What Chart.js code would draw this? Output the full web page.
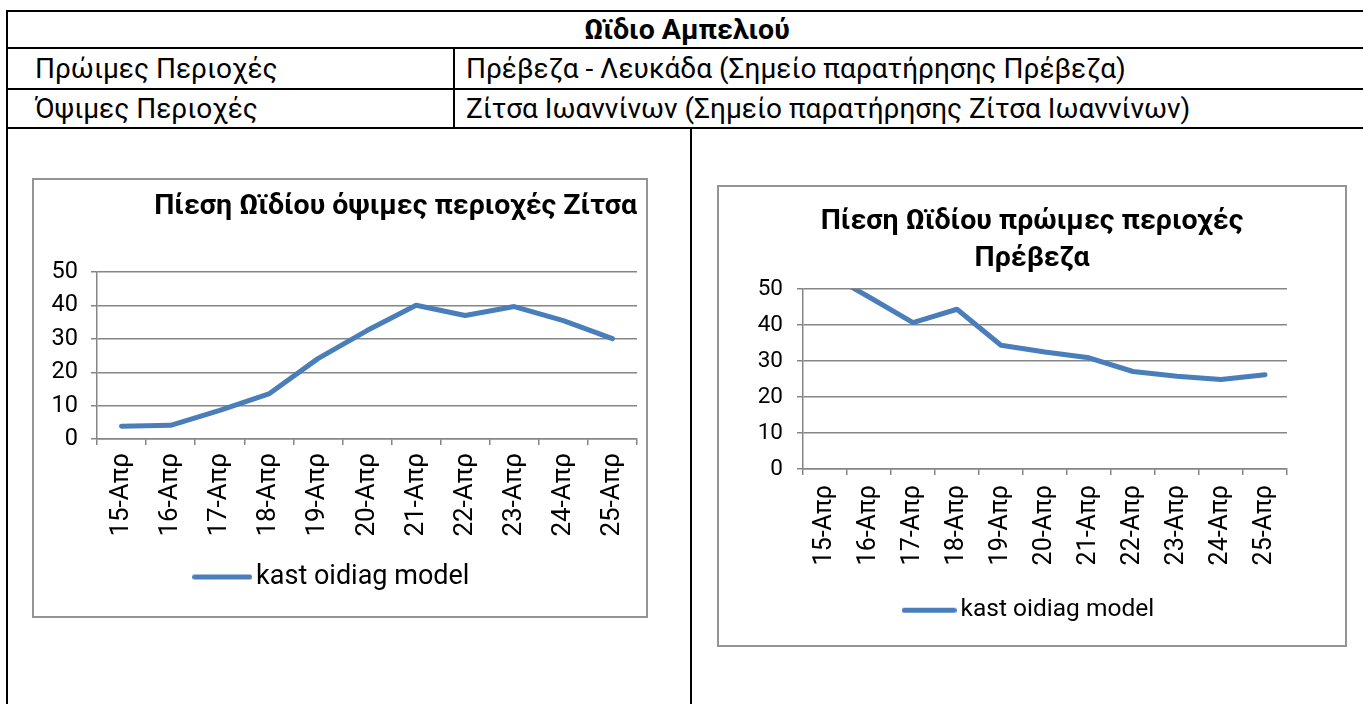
<!DOCTYPE html>
<html>
<head>
<meta charset="utf-8">
<script src="https://cdn.jsdelivr.net/npm/chart.js"></script>
<style>
  html, body { margin: 0; padding: 0; background: #fff; width: 1363px; height: 704px; overflow: hidden; font-family: Roboto, sans-serif; }
  .rule { position: absolute; background: #000; }
  .cell { position: absolute; display: flex; align-items: center; font-size: 28px; white-space: nowrap; color: #000; }
  .box { position: absolute; border: 2px solid #949494; box-sizing: border-box; }
  .box canvas { position: absolute; left: 0; top: 0; }
</style>
</head>
<body>
<!-- table frame -->
<div class="rule" style="left:6px;top:10px;width:1360px;height:2px"></div>
<div class="rule" style="left:6px;top:10px;width:2px;height:700px"></div>
<div class="rule" style="left:6px;top:47px;width:1360px;height:2px"></div>
<div class="rule" style="left:6px;top:88px;width:1360px;height:2px"></div>
<div class="rule" style="left:6px;top:127px;width:1360px;height:2px"></div>
<div class="rule" style="left:453px;top:48px;width:2px;height:80px"></div>
<div class="rule" style="left:690px;top:128px;width:2px;height:580px"></div>

<div class="cell" style="left:8px;top:12px;width:1358px;height:35px;justify-content:center;font-weight:bold;font-size:28.5px">Ωϊδιο Αμπελιού</div>
<div class="cell" style="left:35px;top:49px;height:39px">Πρώιμες Περιοχές</div>
<div class="cell" style="left:466px;top:49px;height:39px">Πρέβεζα - Λευκάδα (Σημείο παρατήρησης Πρέβεζα)</div>
<div class="cell" style="left:35px;top:90px;height:37px">Όψιμες Περιοχές</div>
<div class="cell" style="left:466px;top:90px;height:37px">Ζίτσα Ιωαννίνων (Σημείο παρατήρησης Ζίτσα Ιωαννίνων)</div>

<div class="box" style="left:32px;top:178px;width:616px;height:440px"><canvas id="late" width="612" height="436"></canvas></div>
<div class="box" style="left:717px;top:185px;width:630px;height:462px"><canvas id="early" width="626" height="458"></canvas></div>

<script>
const days = ["15-Απρ", "16-Απρ", "17-Απρ", "18-Απρ", "19-Απρ", "20-Απρ", "21-Απρ", "22-Απρ", "23-Απρ", "24-Απρ", "25-Απρ"];
const lateZitsa = [3.8, 4.1, 8.6, 13.5, 24.1, 32.5, 40.1, 37.0, 39.7, 35.5, 30.1];
const earlyPreveza = [54.8, 47.8, 40.7, 44.4, 34.4, 32.5, 30.9, 27.1, 25.8, 24.9, 26.2];
const yTicks = [0, 10, 20, 30, 40, 50];
const seriesName = "kast oidiag model";

const BLUE = "#4a7ebb";
const GRID = "#868686";
const FONT = "Roboto";

// short thick line used as the legend sample (like Excel's)
function legendLine(w, h) {
    const c = document.createElement("canvas");
    c.width = w;
    c.height = h + 2;
    const g = c.getContext("2d");
    g.strokeStyle = BLUE;
    g.lineWidth = h;
    g.lineCap = "round";
    g.beginPath();
    g.moveTo(h / 2, c.height / 2);
    g.lineTo(w - h / 2, c.height / 2);
    g.stroke();
    return c;
}

function makeChart(id, values, title, L) {
    const ctx = document.getElementById(id).getContext("2d");
    return new Chart(ctx, {
        type: "line",
        data: {
            labels: days,
            datasets: [{
                label: seriesName,
                data: values,
                borderColor: BLUE,
                backgroundColor: BLUE,
                borderWidth: 5,
                borderJoinStyle: "round",
                borderCapStyle: "round",
                pointRadius: 0,
                tension: 0,
                fill: false,
                clip: { left: 5, right: 5, top: 0, bottom: 5 }
            }]
        },
        options: {
            responsive: false,
            animation: false,
            devicePixelRatio: 1,
            layout: { padding: { left: 0, right: L.padRight, top: 0, bottom: L.padBottom } },
            plugins: {
                tooltip: { enabled: false },
                title: {
                    display: true,
                    text: title,
                    align: L.titleAlign,
                    color: "#000",
                    font: { family: FONT, size: 28.5, weight: "bold", lineHeight: L.titleLine },
                    padding: { top: L.titleTop, bottom: L.titleBottom }
                },
                legend: {
                    position: "bottom",
                    labels: {
                        color: "#000",
                        usePointStyle: true,
                        pointStyle: legendLine(L.sampleW, 5),
                        pointStyleWidth: L.sampleW + 8 - L.legendSize,
                        padding: 10,
                        font: { family: FONT, size: L.legendSize }
                    }
                }
            },
            scales: {
                x: {
                    offset: true,
                    grid: { offset: true, drawOnChartArea: false, drawTicks: true, tickLength: 6, color: GRID, lineWidth: 1.5 },
                    border: { color: GRID, width: 1.5 },
                    ticks: { minRotation: 90, maxRotation: 90, autoSkip: false, padding: L.xPad, color: "#000", font: { family: FONT, size: L.xSize } },
                    afterFit(s) {
                        s.height = L.xHeight;
                        s.paddingLeft = 0;
                        s.paddingRight = 0;
                    }
                },
                y: {
                    min: yTicks[0],
                    max: yTicks[yTicks.length - 1],
                    grid: { color: GRID, lineWidth: 1.5, tickLength: 6 },
                    border: { color: GRID, width: 1.5 },
                    ticks: { stepSize: yTicks[1] - yTicks[0], padding: L.yPad, color: "#000", font: { family: FONT, size: L.ySize } },
                    afterFit(s) { s.width = L.yWidth; }
                },
                pad: {
                    position: "right",
                    display: L.rightAxis > 0,
                    grid: { display: false },
                    border: { display: false },
                    ticks: { display: false },
                    afterFit(s) { s.width = L.rightAxis; }
                }
            }
        }
    });
}

makeChart("late", lateZitsa, "Πίεση Ωϊδίου όψιμες περιοχές Ζίτσα", {
    padRight: 9, padBottom: 15.5, titleAlign: "end", titleLine: 1.2, titleTop: 10, titleBottom: 48,
    xPad: 8, xHeight: 114.5, xSize: 26, yPad: 13, yWidth: 63, ySize: 23.5,
    legendSize: 27, sampleW: 60, rightAxis: 0
});

makeChart("early", earlyPreveza, ["Πίεση Ωϊδίου πρώιμες περιοχές", "Πρέβεζα"], {
    padRight: 0, padBottom: 12.5, titleAlign: "center", titleLine: 1.3, titleTop: 16.5, titleBottom: 11.5,
    xPad: 10, xHeight: 119, xSize: 25, yPad: 14, yWidth: 84, ySize: 22.5,
    legendSize: 24.5, sampleW: 55, rightAxis: 58
});
</script>
</body>
</html>
